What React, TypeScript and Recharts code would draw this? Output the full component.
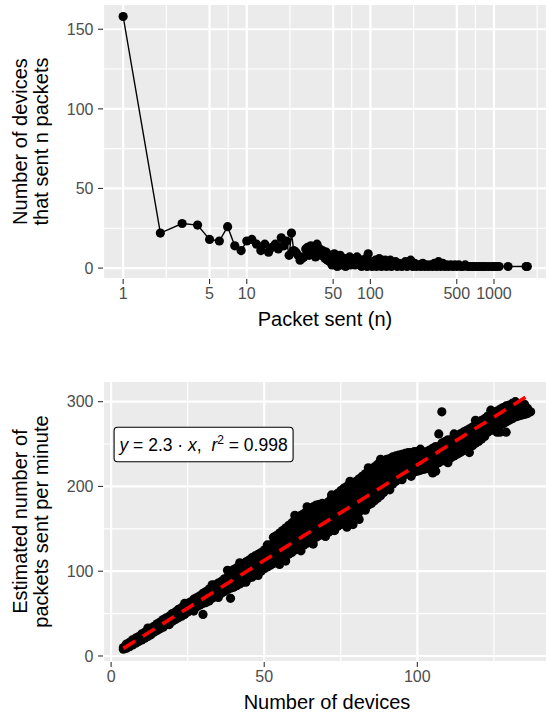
import React from 'react';
import { ScatterChart, Scatter, XAxis, YAxis, CartesianGrid, ReferenceDot } from 'recharts';

const FONT = '"Liberation Sans", Arial, Helvetica, sans-serif';
const PANEL = '#EBEBEB';
const TICK_TEXT = '#4D4D4D';
const TICK_LINE = '#333333';

// ---------- top panel: devices that sent n packets ----------
const sentDistribution: [number, number][] = [
  [1, 158], [2, 22], [3, 28], [4, 27], [5, 18], [6, 17], [7, 26], [8, 14], [9, 11], [10, 17],
  [11, 18], [12, 15], [13, 11], [14, 15], [15, 10], [16, 13], [17, 15], [18, 12], [19, 19], [20, 14],
  [21, 17], [22, 8], [23, 22], [24, 11], [25, 10], [26, 8], [27, 5], [28, 6], [29, 7], [30, 12],
  [31, 13], [32, 8], [33, 14], [34, 9], [35, 11], [36, 7], [37, 15], [38, 10], [39, 12], [40, 8],
  [41, 11], [42, 9], [43, 6], [44, 10], [45, 5], [46, 8], [47, 4], [48, 7], [49, 2], [50, 6],
  [51, 9], [52, 3], [53, 8], [54, 1], [55, 7], [56, 4], [57, 8], [58, 2], [59, 5], [60, 3],
  [61, 6], [62, 4], [63, 1], [64, 6], [65, 2], [66, 4], [67, 3], [68, 7], [69, 2], [70, 5],
  [72, 3], [73, 6], [75, 2], [76, 4], [78, 7], [80, 3], [82, 2], [84, 5], [85, 1], [87, 3],
  [89, 4], [90, 2], [92, 6], [94, 1], [96, 9], [98, 3], [99, 2], [101, 4], [103, 1], [105, 3],
  [107, 2], [110, 5], [112, 1], [115, 3], [118, 6], [120, 2], [123, 1], [126, 4], [129, 2], [132, 5],
  [135, 1], [138, 3], [141, 2], [145, 5], [148, 1], [152, 3], [156, 2], [160, 4], [165, 1], [170, 3],
  [175, 2], [180, 1], [186, 3], [192, 4], [198, 1], [205, 2], [212, 5], [220, 1], [228, 3], [236, 1],
  [245, 2], [255, 1], [265, 3], [275, 1], [285, 2], [295, 1], [305, 2], [318, 1], [330, 3], [343, 1],
  [356, 4], [370, 1], [385, 3], [400, 1], [415, 2], [430, 1], [447, 2], [465, 1], [483, 2], [500, 1],
  [520, 2], [540, 1], [560, 1], [585, 2], [610, 1], [640, 1], [670, 1], [700, 1], [730, 1], [770, 1],
  [810, 1], [850, 1], [900, 1], [960, 1], [1000, 1], [1050, 1], [1100, 1], [1300, 1], [1820, 1], [1860, 1],
];
const sentTicks = [1, 5, 10, 50, 100, 500, 1000];
const sentMinor = [2.236, 7.071, 22.36, 70.71, 223.6, 707.1, 2236];
const sentDomain = [0.687, 2685];
const countTicks = [0, 50, 100, 150];
const countMinor = [25, 75, 125];
const countDomain = [-6.85, 165.85];

// ---------- bottom panel: estimated packets per minute vs devices ----------
// each row: [number of devices, ...observed packets-per-minute estimates]
const deviceRateRows: number[][] = [
  [4, 8, 10], [5, 9, 12, 14], [6, 11, 14, 16], [7, 13, 16, 19], [8, 15, 18, 21],
  [9, 17, 20, 23], [10, 19, 23, 26], [11, 21, 25, 28], [12, 23, 27, 31], [13, 25, 30, 33],
  [14, 28, 32, 35], [15, 30, 34, 38], [16, 32, 36, 40], [17, 34, 38, 43], [18, 37, 41, 45],
  [19, 39, 43, 47], [20, 41, 45, 50], [21, 43, 48, 52], [22, 45, 50, 55], [23, 47, 52, 57],
  [24, 49, 54, 60], [25, 52, 57, 62], [26, 54, 59, 64], [27, 56, 61, 67], [28, 58, 64, 69],
  [29, 60, 66, 71], [30, 62, 68, 74, 49], [31, 63, 70, 76], [32, 65, 72, 79], [33, 68, 75, 81],
  [34, 70, 77, 84], [35, 72, 79, 86], [36, 74, 81, 88], [37, 76, 84, 91], [38, 78, 86, 93, 101],
  [39, 80, 88, 95, 68], [40, 81, 88, 95, 102], [41, 83, 90, 97, 104], [42, 85, 92, 99, 107],
  [43, 87, 95, 102, 109], [44, 90, 97, 104, 111], [45, 92, 99, 106, 113], [46, 94, 101, 108, 116, 93],
  [47, 96, 104, 111, 118], [48, 98, 106, 113, 120, 95], [49, 100, 108, 115, 122], [50, 103, 110, 118, 125],
  [51, 105, 112, 120, 128], [52, 107, 115, 123, 131], [53, 109, 117, 125, 133, 140],
  [54, 111, 119, 127, 135, 142], [55, 114, 122, 130, 138, 145], [56, 116, 124, 132, 140, 148],
  [57, 118, 126, 134, 143, 151], [58, 120, 128, 137, 146, 154], [59, 122, 131, 140, 149, 157],
  [60, 125, 134, 143, 152, 161], [61, 127, 136, 145, 154, 163], [62, 129, 138, 147, 157, 166],
  [63, 131, 140, 150, 160, 168], [64, 133, 143, 152, 162, 171], [65, 136, 145, 155, 165, 174],
  [66, 138, 147, 157, 167, 176], [67, 140, 150, 160, 170, 178], [68, 142, 152, 162, 171, 179],
  [69, 144, 154, 164, 173, 180], [70, 141, 150, 160, 169, 178], [71, 146, 155, 164, 173, 182],
  [72, 148, 158, 167, 176, 186], [73, 151, 160, 170, 179, 189], [74, 153, 163, 173, 182, 192],
  [75, 155, 165, 175, 185, 195], [76, 158, 168, 178, 188, 198], [77, 160, 170, 180, 190, 200],
  [78, 163, 173, 183, 192, 202], [79, 165, 175, 185, 195, 204], [80, 168, 178, 188, 197, 206],
  [81, 170, 180, 190, 200, 209], [82, 173, 183, 193, 202, 212], [83, 175, 185, 195, 205, 215],
  [84, 178, 188, 198, 208, 218], [85, 180, 190, 200, 210, 220], [86, 183, 193, 203, 213, 223],
  [87, 186, 196, 206, 216, 226], [88, 189, 199, 209, 219, 228], [89, 193, 203, 212, 221, 230],
  [90, 197, 206, 215, 224, 232], [91, 200, 209, 218, 226, 233], [92, 203, 212, 220, 228, 235],
  [93, 206, 214, 222, 230, 236], [94, 209, 217, 224, 231, 237], [95, 212, 219, 226, 233, 238],
  [96, 214, 221, 228, 234, 239], [97, 215, 222, 229, 235, 240], [98, 216, 223, 230, 236, 240],
  [99, 217, 224, 231, 237, 241], [100, 218, 225, 232, 238, 241], [101, 219, 226, 233, 239],
  [102, 220, 227, 234, 240], [103, 221, 228, 235, 241], [104, 222, 229, 236, 243],
  [105, 216, 224, 231, 238, 245], [106, 218, 226, 233, 240, 247], [107, 228, 235, 242, 262],
  [108, 230, 237, 244, 251, 288], [109, 232, 239, 246, 253], [110, 234, 241, 248, 255],
  [111, 234, 241, 248, 255], [112, 236, 243, 250, 257], [113, 238, 245, 252, 260],
  [114, 240, 247, 254, 262], [115, 242, 249, 256, 264], [116, 244, 251, 258, 266],
  [117, 246, 253, 260, 268], [118, 248, 255, 262, 270], [119, 251, 258, 265, 273],
  [120, 253, 260, 267, 276], [121, 256, 263, 270, 278], [122, 259, 266, 273, 280],
  [123, 264, 271, 277, 283], [124, 266, 273, 279, 285], [125, 268, 275, 281, 287],
  [126, 270, 277, 283, 289, 264], [127, 272, 279, 285, 291, 264], [128, 274, 281, 287, 293],
  [129, 276, 283, 289, 295, 264], [130, 278, 285, 291, 296], [131, 280, 286, 292, 298],
  [132, 282, 288, 294, 300], [133, 283, 289, 295], [134, 284, 290, 296], [135, 285, 291, 297],
  [136, 286, 292], [137, 288],
  // scattered observations along the edges of the band
  [12, 33], [19, 37], [24, 62], [27, 53], [33, 84], [35, 69], [42, 110], [44, 87], [51, 131],
  [55, 108], [57, 112], [60, 166], [62, 124], [64, 176], [66, 132], [72, 190], [73, 148],
  [77, 152], [79, 155], [78, 206], [81, 161], [83, 172], [84, 222], [88, 232], [91, 196],
  [95, 208], [98, 212], [101, 244], [110, 228], [112, 262], [117, 240], [119, 278], [124, 290],
];
const fitLine: [number, number][] = [[4, 9], [137, 309]];
const deviceTicks = [0, 50, 100];
const deviceMinor = [25, 75, 125];
const deviceDomain = [-2.65, 143.65];
const rateTicks = [0, 100, 200, 300];
const rateMinor = [50, 150, 250];
const rateDomain = [-7.1, 324.4];

const topData = sentDistribution.map(([n, count]) => ({ n, count }));
const bottomData = deviceRateRows.flatMap(([x, ...ys]) => ys.map((y) => ({ x, y })));
const fitData = fitLine.map(([x, y]) => ({ x, y }));

const tickStyle = { fill: TICK_TEXT, fontSize: 16, fontFamily: FONT };
const tickLineStyle = { stroke: TICK_LINE, strokeWidth: 1.1 };

const Dot = (p: any) => <circle cx={p.cx} cy={p.cy} r={4.6} fill="#000" />;
const NoDot = () => <g />;

const yTitle = (lines: string[]) => (props: any) => {
  const vb = props.viewBox || {};
  const cy = (vb.y ?? 0) + (vb.height ?? 0) / 2;
  return (
    <g>
      {lines.map((l, i) => {
        const x = 26.5 + i * 21;
        return (
          <text key={i} x={x} y={cy} transform={`rotate(-90, ${x}, ${cy})`} textAnchor="middle"
            fontSize={20} fontFamily={FONT} fill="#000">{l}</text>
        );
      })}
    </g>
  );
};

const xTitle = (label: string) => (props: any) => {
  const vb = props.viewBox || {};
  const cx = (vb.x ?? 0) + (vb.width ?? 0) / 2;
  const y = (vb.y ?? 0) + 47;
  return (
    <text x={cx} y={y} textAnchor="middle" fontSize={20} fontFamily={FONT} fill="#000">{label}</text>
  );
};

const AnnotationBox = (p: any) => {
  const cx = p.cx, cy = p.cy;
  return (
    <g>
      <rect x={cx - 89.5} y={cy - 17.2} width={179} height={34.4} rx={3.5} ry={3.5}
        fill="#fff" stroke="#000" strokeWidth={1.1} />
      <text x={cx} y={cy + 6.5} textAnchor="middle" fontSize={17.5} fontFamily={FONT} fill="#000"
        style={{ whiteSpace: 'pre' }}>
        <tspan fontStyle="italic">y</tspan>
        <tspan>{' = 2.3 · '}</tspan>
        <tspan fontStyle="italic">x</tspan>
        <tspan>{',  '}</tspan>
        <tspan fontStyle="italic">r</tspan>
        <tspan fontSize={12} dy={-7}>2</tspan>
        <tspan dy={7}>{' = 0.998'}</tspan>
      </text>
    </g>
  );
};

export default function App() {
  return (
    <div style={{ position: 'absolute', left: 0, top: 0, width: 546, height: 716, overflow: 'hidden', background: '#fff' }}>
      <div style={{ position: 'absolute', left: 0, top: 0 }}>
        <ScatterChart width={551} height={340} margin={{ top: 4, right: 4, bottom: 0, left: 0 }}>
          <CartesianGrid fill={PANEL} fillOpacity={1} stroke="#fff" strokeWidth={1.1}
            verticalValues={sentMinor} horizontalValues={countMinor} />
          <CartesianGrid stroke="#fff" strokeWidth={2.2} />
          <XAxis dataKey="n" type="number" scale="log" domain={sentDomain} allowDataOverflow
            ticks={sentTicks} interval={0} tick={tickStyle} tickLine={tickLineStyle} axisLine={false}
            tickSize={5} tickMargin={4} height={61} label={xTitle('Packet sent (n)')} />
          <YAxis dataKey="count" type="number" domain={countDomain} allowDataOverflow
            ticks={countTicks} interval={0} tick={tickStyle} tickLine={tickLineStyle} axisLine={false}
            tickSize={5} tickMargin={4.5} width={103}
            label={yTitle(['Number of devices', 'that sent n packets'])} />
          <Scatter data={topData} fill="#000" shape={Dot} isAnimationActive={false}
            line={{ stroke: '#000', strokeWidth: 1.4 }} lineType="joint" />
        </ScatterChart>
      </div>
      <div style={{ position: 'absolute', left: 0, top: 376 }}>
        <ScatterChart width={551} height={340} margin={{ top: 5, right: 0, bottom: 0, left: 0 }}>
          <CartesianGrid fill={PANEL} fillOpacity={1} stroke="#fff" strokeWidth={1.1}
            verticalValues={deviceMinor} horizontalValues={rateMinor} />
          <CartesianGrid stroke="#fff" strokeWidth={2.2} />
          <XAxis dataKey="x" type="number" domain={deviceDomain} allowDataOverflow
            ticks={deviceTicks} interval={0} tick={tickStyle} tickLine={tickLineStyle} axisLine={false}
            tickSize={5} tickMargin={4} height={54} label={xTitle('Number of devices')} />
          <YAxis dataKey="y" type="number" domain={rateDomain} allowDataOverflow
            ticks={rateTicks} interval={0} tick={tickStyle} tickLine={tickLineStyle} axisLine={false}
            tickSize={5} tickMargin={4.5} width={103}
            label={yTitle(['Estimated number of', 'packets sent per minute'])} />
          <Scatter data={bottomData} fill="#000" shape={Dot} isAnimationActive={false} />
          <Scatter data={fitData} fill="#FF0000" shape={NoDot} isAnimationActive={false}
            line={{ stroke: '#FF0000', strokeWidth: 3.6, strokeDasharray: '14 9' }} lineType="joint" />
          <ReferenceDot x={30.2} y={249.5} ifOverflow="visible" shape={AnnotationBox} />
        </ScatterChart>
      </div>
    </div>
  );
}
